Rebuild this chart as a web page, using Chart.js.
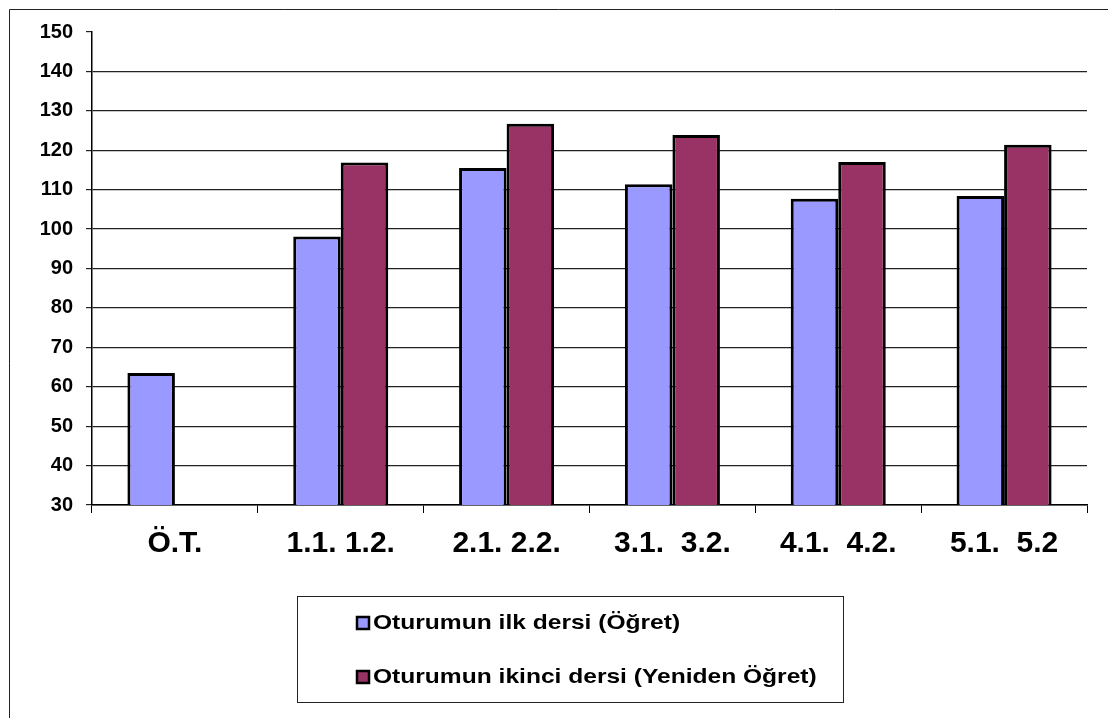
<!DOCTYPE html>
<html><head><meta charset="utf-8">
<script src="https://cdn.jsdelivr.net/npm/chart.js@4/dist/chart.umd.min.js"></script>
<style>html,body{margin:0;padding:0;background:#fff;}canvas{display:block;}</style>
</head><body>
<canvas id="c" width="1108" height="718"></canvas>
<script>
const categories = ["Ö.T.", "1.1. 1.2.", "2.1. 2.2.", "3.1.  3.2.", "4.1.  4.2.", "5.1.  5.2"];
const seriesNames = ["Oturumun ilk dersi (Öğret)", "Oturumun ikinci dersi (Yeniden Öğret)"];
const firstLesson = [63.5, 98.1, 115.5, 111.4, 107.7, 108.4];
const secondLesson = [null, 116.9, 126.7, 123.9, 117.0, 121.4];
const yTicks = [30, 40, 50, 60, 70, 80, 90, 100, 110, 120, 130, 140, 150];
const colors = ["#9999FF", "#993366"];

const FONT = "'Liberation Sans', Arial, sans-serif";

const framePlugin = {
  id: 'frame',
  beforeDraw(chart) {
    const ctx = chart.ctx;
    ctx.save();
    ctx.fillStyle = '#fff';
    ctx.fillRect(0, 0, chart.width, chart.height);
    ctx.strokeStyle = '#222';
    ctx.lineWidth = 1;
    ctx.beginPath();
    ctx.moveTo(9.5, chart.height);
    ctx.lineTo(9.5, 9.5);
    ctx.lineTo(chart.width, 9.5);
    ctx.stroke();
    ctx.restore();
  },
  afterDraw(chart) {
    const ctx = chart.ctx;
    ctx.save();
    ctx.strokeStyle = '#222';
    ctx.lineWidth = 1;
    ctx.strokeRect(297.5, 596.5, 546, 106);
    const ys = [623, 677];
    chart.data.datasets.forEach((ds, i) => {
      const y = ys[i];
      ctx.fillStyle = ds.backgroundColor;
      ctx.fillRect(357, y - 6, 12, 12);
      ctx.strokeStyle = '#000';
      ctx.lineWidth = 2.5;
      ctx.strokeRect(357, y - 6, 12, 12);
      ctx.save();
      ctx.translate(373, y);
      ctx.scale(1.17, 1);
      ctx.fillStyle = '#000';
      ctx.font = 'bold 21px ' + FONT;
      ctx.textBaseline = 'middle';
      ctx.textAlign = 'left';
      ctx.fillText(ds.label, 0, 0);
      ctx.restore();
    });
    ctx.restore();
  }
};

new Chart(document.getElementById('c'), {
  type: 'bar',
  data: {
    labels: categories,
    datasets: [
      { label: seriesNames[0], data: firstLesson, backgroundColor: colors[0], borderColor: '#000', borderWidth: 3, borderSkipped: false },
      { label: seriesNames[1], data: secondLesson, backgroundColor: colors[1], borderColor: '#000', borderWidth: 3, borderSkipped: false }
    ]
  },
  options: {
    responsive: false,
    animation: false,
    events: [],
    layout: { padding: { left: 0, top: 32, right: 21, bottom: 0 } },
    datasets: { bar: { categoryPercentage: 0.573, barPercentage: 1.0 } },
    plugins: { legend: { display: false }, tooltip: { enabled: false } },
    scales: {
      x: {
        offset: true,
        grid: { offset: true, drawOnChartArea: false, color: '#000', tickLength: 8, lineWidth: 1 },
        border: { display: true, color: '#000', width: 1.5 },
        ticks: { color: '#000', font: { family: FONT, size: 30, weight: 'bold' }, padding: 13, maxRotation: 0, autoSkip: false },
        afterFit(s) { s.height = 213; }
      },
      y: {
        min: 30, max: 150,
        afterBuildTicks(s) { s.ticks = yTicks.map(v => ({ value: v })); },
        grid: {
          color: ctx => (ctx.tick && ctx.tick.value === 150) ? 'rgba(0,0,0,0)' : '#222',
          tickColor: '#222',
          tickLength: 6,
          lineWidth: 1.2
        },
        border: { display: true, color: '#000', width: 1.5 },
        ticks: { color: '#000', font: { family: FONT, size: 20, weight: 'bold' }, padding: 13 },
        afterFit(s) { s.width = 92; }
      }
    }
  },
  plugins: [framePlugin]
});
</script>
</body></html>
